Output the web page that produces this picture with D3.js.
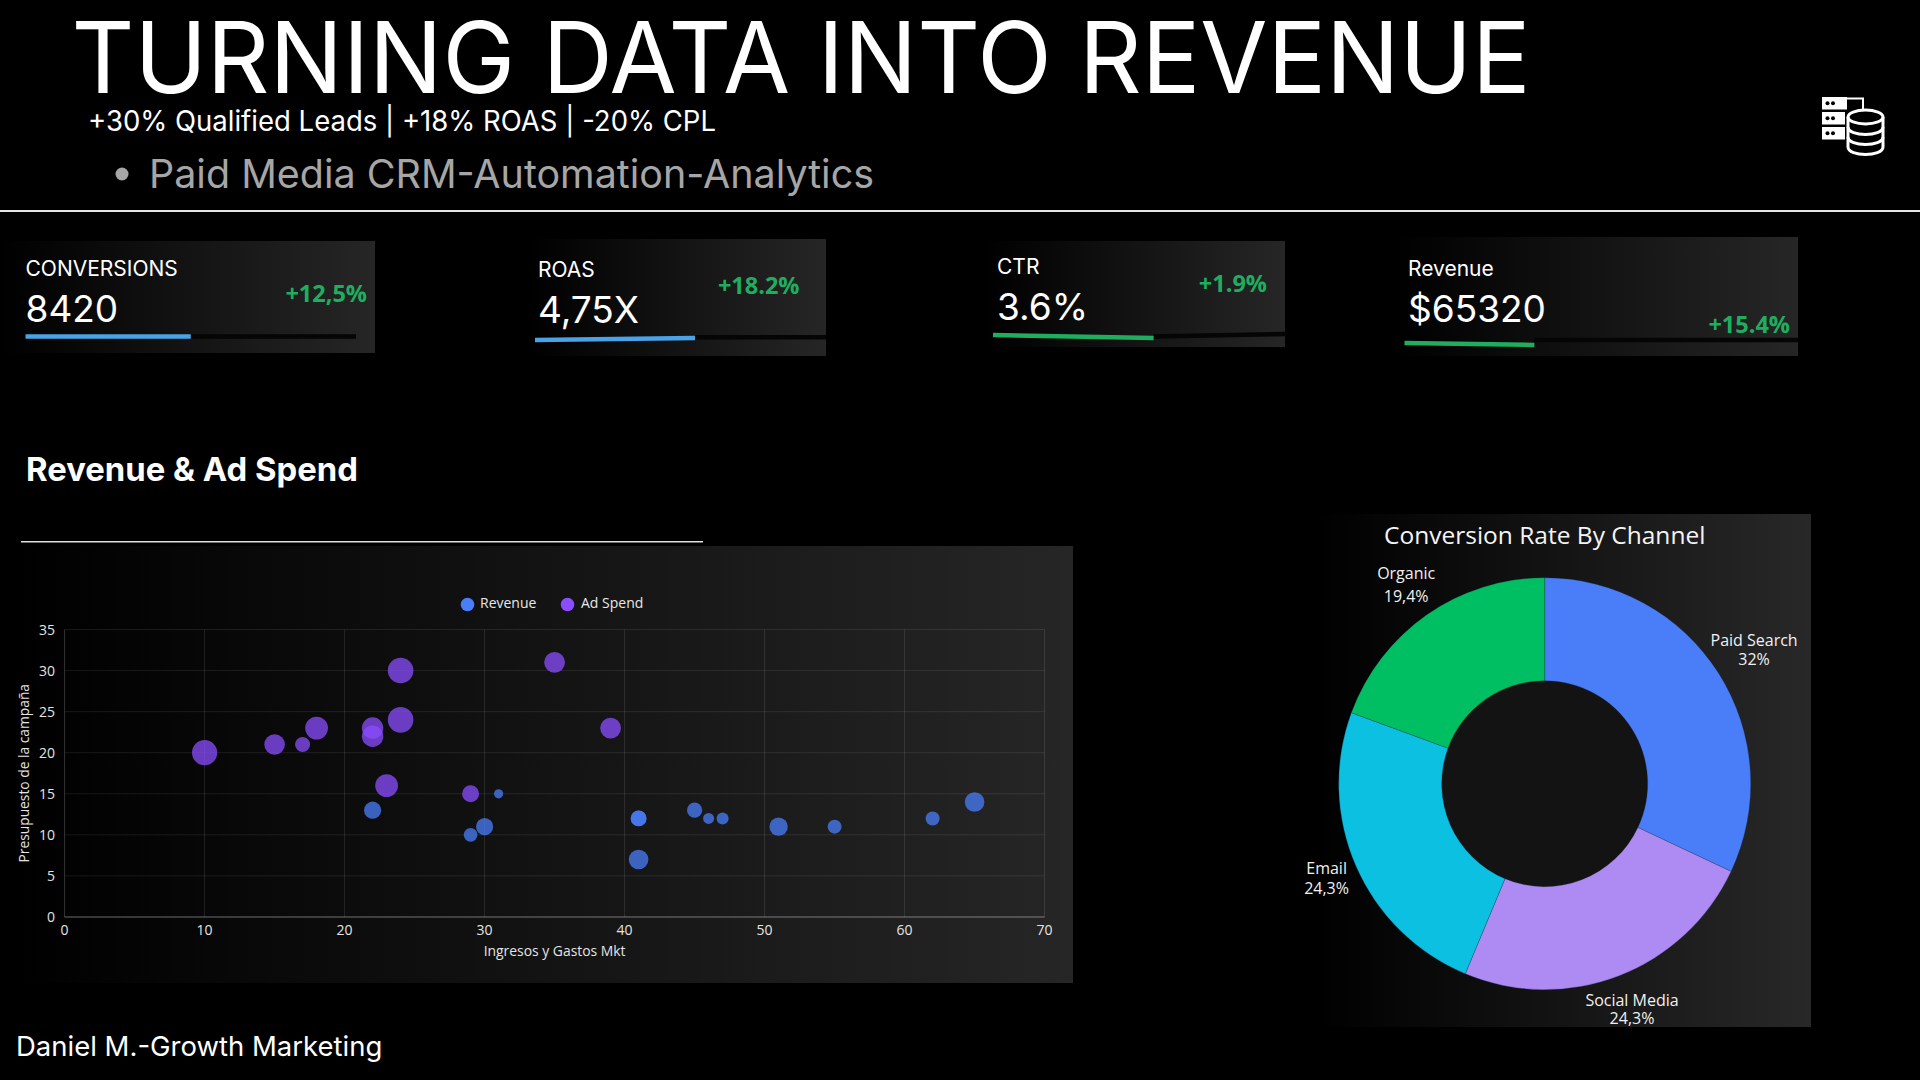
<!DOCTYPE html>
<html>
<head>
<meta charset="utf-8">
<title>Turning Data Into Revenue</title>
<script src="https://cdn.jsdelivr.net/npm/d3@7/dist/d3.min.js"></script>
<style>
  html, body { margin: 0; padding: 0; background: #000; overflow: hidden; }
  svg { display: block; }
  text { font-family: Inter, "Noto Sans", sans-serif; }
  .os text, text.os { font-family: "Open Sans", sans-serif; }
</style>
</head>
<body>
<svg id="page" width="1920" height="1080"></svg>
<script>
// KPI cards
const kpiLabels = ["CONVERSIONS", "ROAS", "CTR", "Revenue"];
const kpiValues = ["8420", "4,75X", "3.6%", "$65320"];
const kpiDeltas = ["+12,5%", "+18.2%", "+1.9%", "+15.4%"];
const kpiProgress = [50, 55, 55, 33];

// Bubble series: horizontal value, vertical value, bubble size
const revenueX = [22, 31, 29, 30, 41, 41, 41, 45, 46, 47, 51, 55, 62, 65];
const revenueY = [13, 15, 10, 11, 12, 12, 7, 13, 12, 12, 11, 11, 12, 14];
const revenueSize = [8.6, 4.6, 6.9, 8.6, 7.9, 7.9, 9.8, 7.6, 5.5, 6, 9.2, 7, 7, 9.8];
const adSpendX = [10, 15, 17, 18, 22, 22, 24, 24, 23, 29, 35, 39];
const adSpendY = [20, 21, 21, 23, 23, 22, 30, 24, 16, 15, 31, 23];
const adSpendSize = [12.6, 10.3, 7.5, 11.4, 10.7, 10.7, 12.8, 12.8, 11.4, 8.5, 10.4, 10.4];
const xTicks = [0, 10, 20, 30, 40, 50, 60, 70];
const yTicks = [0, 5, 10, 15, 20, 25, 30, 35];

// Channel share of conversions
const channels = ["Paid Search", "Social Media", "Email", "Organic"];
const channelShare = [32, 24.3, 24.3, 19.4];
const channelText = ["32%", "24,3%", "24,3%", "19,4%"];
const channelColors = ["#4a7ef8", "#ad8bf2", "#0cc0e2", "#00bf63"];
const channelLineGap = [19, 18, 20, 23];
const channelLabelRadius = [248, 243, 238, 242];

const BLUE = "#4a7ef8", PURPLE = "#8b4dff", GREEN = "#1fae5f", SKY = "#4aa3e6";

const svg = d3.select("#page");
svg.append("rect").attr("width", 1920).attr("height", 1080).attr("fill", "#000");
const defs = svg.append("defs");

// Left-to-right dark fade shared by every panel
function panelFill(id, end) {
  const g = defs.append("linearGradient").attr("id", id);
  g.append("stop").attr("offset", "0%").attr("stop-color", "#000");
  g.append("stop").attr("offset", "100%").attr("stop-color", end);
  return `url(#${id})`;
}

// Header
svg.append("text").attr("x", 71.5).attr("y", 93).attr("font-size", 99).attr("fill", "#fff")
  .attr("textLength", 1459).attr("lengthAdjust", "spacingAndGlyphs")
  .text("TURNING DATA INTO REVENUE");
svg.append("text").attr("x", 88).attr("y", 131).attr("font-size", 28).attr("fill", "#fff")
  .attr("textLength", 628).attr("lengthAdjust", "spacingAndGlyphs")
  .text("+30% Qualified Leads | +18% ROAS | -20% CPL");
svg.append("circle").attr("cx", 122).attr("cy", 174).attr("r", 6.5).attr("fill", "#a6a6a6");
svg.append("text").attr("x", 149).attr("y", 188).attr("font-size", 39).attr("fill", "#a6a6a6")
  .attr("textLength", 725).attr("lengthAdjust", "spacingAndGlyphs")
  .text("Paid Media CRM-Automation-Analytics");
svg.append("rect").attr("x", 0).attr("y", 210).attr("width", 1920).attr("height", 2).attr("fill", "#e6e6e6");

// Data-stack icon, top right
const icon = svg.append("g").attr("transform", "translate(1800,85)");
[[22, 12, 25, 12.5], [22, 27, 23, 12.5], [22, 42, 23, 12.5]].forEach(([x, y, w, h]) => {
  icon.append("rect").attr("x", x).attr("y", y).attr("width", w).attr("height", h).attr("fill", "#fff");
  icon.append("circle").attr("cx", x + 5.5).attr("cy", y + h / 2).attr("r", 2).attr("fill", "#000");
  icon.append("circle").attr("cx", x + 11).attr("cy", y + h / 2).attr("r", 2).attr("fill", "#000");
});
icon.append("path").attr("d", "M47 13.5H63V24").attr("fill", "none").attr("stroke", "#fff").attr("stroke-width", 2);
const db = icon.append("g").attr("fill", "none").attr("stroke", "#fff").attr("stroke-width", 3);
db.append("ellipse").attr("cx", 65.5).attr("cy", 32).attr("rx", 17.5).attr("ry", 7);
db.append("path").attr("d", "M48 32V62C48 67 57 69.5 65.5 69.5S83 67 83 62V32");
db.append("path").attr("d", "M48 42C48 47 57 49.5 65.5 49.5S83 47 83 42");
db.append("path").attr("d", "M48 52C48 57 57 59.5 65.5 59.5S83 57 83 52");

// KPI cards, with their slightly uneven placement
const cardLayout = [
  { x0: 0, x1: 375, top: 241, bot: 353, tx: 25.5, labelY: 276, valueY: 322, dx: 367, dy: 302, barX: 25.5, trackEnd: 356, barY0: 336.5, barY1: 336.5, trackY0: 336.5, trackY1: 336.5, color: SKY },
  { x0: 530, x1: 826, top: 239, bot: 356, tx: 538, labelY: 277, valueY: 323, dx: 799.5, dy: 294, barX: 535, trackEnd: 826, barY0: 340, barY1: 338, trackY0: 337.2, trackY1: 337.2, color: SKY },
  { x0: 985, x1: 1285, top: 241, bot: 347, tx: 997, labelY: 274, valueY: 320, dx: 1267, dy: 292, barX: 993, trackEnd: 1285, barY0: 335, barY1: 338, trackY0: 336.5, trackY1: 334, color: GREEN },
  { x0: 1395, x1: 1798, top: 237, bot: 356, tx: 1408, labelY: 276, valueY: 321.5, dx: 1790, dy: 333, barX: 1404.5, trackEnd: 1798, barY0: 343, barY1: 345, trackY0: 340, trackY1: 340, color: GREEN }
];
const kpi = d3.range(kpiLabels.length).map(i => ({ label: kpiLabels[i], value: kpiValues[i], delta: kpiDeltas[i], progress: kpiProgress[i], ...cardLayout[i] }));
const cards = svg.selectAll("g.card").data(kpi).join("g").attr("class", "card");
cards.append("rect")
  .attr("x", d => d.x0).attr("y", d => d.top)
  .attr("width", d => d.x1 - d.x0).attr("height", d => d.bot - d.top)
  .attr("fill", (d, i) => panelFill("cardFade" + i, "#262626"));
cards.append("text").attr("x", d => d.tx).attr("y", d => d.labelY).attr("font-size", 21).attr("fill", "#fff").text(d => d.label);
cards.append("text").attr("x", d => d.tx).attr("y", d => d.valueY).attr("font-size", 37).attr("fill", "#fff").text(d => d.value);
cards.append("text").attr("class", "os").attr("x", d => d.dx).attr("y", d => d.dy).attr("text-anchor", "end")
  .attr("font-size", 23.5).attr("font-weight", 700).attr("fill", GREEN).text(d => d.delta);
cards.each(function (d) {
  const length = d3.scaleLinear().domain([0, 100]).range([d.barX, d.trackEnd]);
  const g = d3.select(this);
  g.append("line").attr("x1", length(d.progress)).attr("x2", d.trackEnd)
    .attr("y1", d.trackY0).attr("y2", d.trackY1).attr("stroke", "#050505").attr("stroke-width", 4.5);
  g.append("line").attr("x1", length(0)).attr("x2", length(d.progress))
    .attr("y1", d.barY0).attr("y2", d.barY1).attr("stroke", d.color).attr("stroke-width", 4.5);
});

// Section heading
svg.append("text").attr("x", 26).attr("y", 481).attr("font-size", 33).attr("font-weight", 700).attr("fill", "#fff")
  .attr("textLength", 332).attr("lengthAdjust", "spacingAndGlyphs").text("Revenue & Ad Spend");
svg.append("rect").attr("x", 21).attr("y", 541).attr("width", 682).attr("height", 1.5).attr("fill", "#e0e0e0");

// Bubble chart
svg.append("rect").attr("x", 18).attr("y", 546).attr("width", 1055).attr("height", 437).attr("fill", panelFill("chartFade", "#262626"));
const x = d3.scaleLinear().domain([0, 70]).range([64.6, 1044.6]);
const y = d3.scaleLinear().domain([0, 35]).range([917, 629.5]);
const chart = svg.append("g").attr("class", "os");

chart.append("g").selectAll("line").data(yTicks).join("line")
  .attr("x1", x(0)).attr("x2", x(70)).attr("y1", d => y(d)).attr("y2", d => y(d))
  .attr("stroke", "#fff").attr("stroke-opacity", d => d === 0 ? 0.28 : 0.09).attr("stroke-width", d => d === 0 ? 1.5 : 1);
chart.append("g").selectAll("line").data(xTicks).join("line")
  .attr("x1", d => x(d)).attr("x2", d => x(d)).attr("y1", y(0)).attr("y2", y(35))
  .attr("stroke", "#fff").attr("stroke-opacity", d => d === 0 ? 0.2 : 0.11);

chart.append("g").selectAll("text").data(xTicks).join("text")
  .attr("x", d => x(d)).attr("y", 935).attr("text-anchor", "middle").attr("font-size", 14).attr("fill", "#e4e4e4").text(d => d);
chart.append("g").selectAll("text").data(yTicks).join("text")
  .attr("x", 55).attr("y", d => y(d) + 5).attr("text-anchor", "end").attr("font-size", 14).attr("fill", "#e4e4e4").text(d => d);
chart.append("text").attr("x", x(35)).attr("y", 956).attr("text-anchor", "middle").attr("font-size", 13.9).attr("fill", "#e4e4e4").text("Ingresos y Gastos Mkt");
chart.append("text").attr("transform", `translate(29,${y(17.5)}) rotate(-90)`).attr("text-anchor", "middle").attr("font-size", 13.8).attr("fill", "#e4e4e4").text("Presupuesto de la campaña");

function bubbles(xs, ys, sizes, color) {
  chart.append("g").selectAll("circle").data(xs.map((v, i) => ({ x: v, y: ys[i], r: sizes[i] }))).join("circle")
    .attr("cx", d => x(d.x)).attr("cy", d => y(d.y)).attr("r", d => d.r)
    .attr("fill", color).attr("fill-opacity", 0.75);
}
bubbles(revenueX, revenueY, revenueSize, BLUE);
bubbles(adSpendX, adSpendY, adSpendSize, PURPLE);

// Legend
const legend = chart.append("g");
[["Revenue", BLUE, 467.5, 480], ["Ad Spend", PURPLE, 567.5, 581]].forEach(([name, color, cx, tx]) => {
  legend.append("circle").attr("cx", cx).attr("cy", 604.5).attr("r", 6.8).attr("fill", color);
  legend.append("text").attr("x", tx).attr("y", 608).attr("font-size", 14).attr("fill", "#e8e8e8").text(name);
});

// Donut chart
svg.append("rect").attr("x", 1316).attr("y", 514).attr("width", 495).attr("height", 513).attr("fill", panelFill("donutFade", "#282828"));
const cx = 1544.7, cy = 783.7, outer = 206, inner = 103;
const pie = d3.pie().value(d => d.share).sort(null);
const slices = pie(channels.map((name, i) => ({ name, share: channelShare[i], text: channelText[i], color: channelColors[i], gap: channelLineGap[i], lr: channelLabelRadius[i] })));
const arc = d3.arc().innerRadius(inner).outerRadius(outer);
const donut = svg.append("g").attr("class", "os").attr("transform", `translate(${cx},${cy})`);
donut.append("circle").attr("r", inner).attr("fill", "#131313");
donut.selectAll("path").data(slices).join("path").attr("d", arc).attr("fill", d => d.data.color)
  .attr("stroke", "#1a2a4a").attr("stroke-opacity", 0.5).attr("stroke-width", 0.5);
const labels = donut.selectAll("g.lab").data(slices).join("g").attr("class", "lab")
  .attr("transform", d => `translate(${d3.arc().innerRadius(d.data.lr).outerRadius(d.data.lr).centroid(d)})`);
labels.append("text").attr("text-anchor", "middle").attr("y", d => -d.data.gap / 2 + 5).attr("font-size", 16).attr("fill", "#f0f0f0").text(d => d.data.name);
labels.append("text").attr("text-anchor", "middle").attr("y", d => d.data.gap / 2 + 5).attr("font-size", 16).attr("fill", "#f0f0f0").text(d => d.data.text);
svg.append("text").attr("class", "os").attr("x", cx).attr("y", 544).attr("text-anchor", "middle").attr("font-size", 24.5).attr("fill", "#f4f4f4").text("Conversion Rate By Channel");

// Byline
svg.append("text").attr("x", 16).attr("y", 1056).attr("font-size", 27.5).attr("fill", "#fff").text("Daniel M.-Growth Marketing");
</script>
</body>
</html>
